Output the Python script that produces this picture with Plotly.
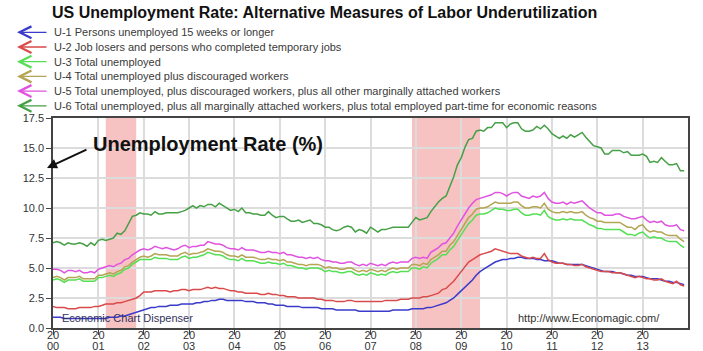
import pandas as pd
import plotly.graph_objects as go

# ---------------- data (monthly, Jan 2000 - Dec 2013) ----------------
months = pd.date_range("2000-01-01", "2013-12-01", freq="MS")

u1 = [0.9, 0.9, 0.9, 0.8, 0.8, 0.8, 0.8, 0.8, 0.8, 0.8, 0.8, 0.8,
      0.8, 0.8, 0.8, 0.9, 0.9, 0.9, 1.0, 1.0, 1.1, 1.2, 1.3, 1.4,
      1.5, 1.6, 1.7, 1.7, 1.8, 1.8, 1.8, 1.9, 1.9, 1.9, 2.0, 2.0,
      2.0, 2.0, 2.1, 2.1, 2.2, 2.2, 2.3, 2.3, 2.4, 2.4, 2.3, 2.3,
      2.3, 2.3, 2.3, 2.2, 2.2, 2.2, 2.1, 2.1, 2.1, 2.0, 2.0, 1.9,
      1.9, 1.9, 1.8, 1.8, 1.8, 1.8, 1.7, 1.7, 1.7, 1.7, 1.7, 1.6,
      1.6, 1.6, 1.6, 1.5, 1.5, 1.5, 1.5, 1.5, 1.5, 1.4, 1.4, 1.4,
      1.4, 1.4, 1.4, 1.4, 1.4, 1.4, 1.5, 1.5, 1.5, 1.5, 1.5, 1.6,
      1.6, 1.6, 1.6, 1.7, 1.7, 1.8, 1.9, 2.0, 2.1, 2.3, 2.5, 2.8,
      3.1, 3.4, 3.7, 4.0, 4.4, 4.7, 4.9, 5.1, 5.3, 5.5, 5.6, 5.7,
      5.7, 5.8, 5.8, 5.9, 5.9, 5.8, 5.8, 5.8, 5.7, 5.7, 5.6, 5.6,
      5.6, 5.5, 5.4, 5.4, 5.3, 5.3, 5.3, 5.3, 5.3, 5.2, 5.1, 5.0,
      4.9, 4.8, 4.7, 4.7, 4.7, 4.6, 4.6, 4.5, 4.4, 4.4, 4.3, 4.3,
      4.3, 4.2, 4.1, 4.1, 4.1, 4.0, 3.9, 3.9, 3.8, 3.8, 3.7, 3.6]

u2 = [1.8, 1.7, 1.7, 1.7, 1.6, 1.6, 1.6, 1.7, 1.7, 1.7, 1.7, 1.8,
      1.8, 1.9, 2.0, 2.0, 2.0, 2.1, 2.1, 2.2, 2.3, 2.4, 2.5, 2.7,
      3.0, 3.0, 3.0, 3.1, 3.1, 3.1, 3.1, 3.0, 3.1, 3.1, 3.2, 3.2,
      3.1, 3.2, 3.2, 3.2, 3.3, 3.4, 3.3, 3.4, 3.3, 3.3, 3.2, 3.1,
      3.1, 3.0, 3.0, 2.9, 2.9, 2.9, 2.9, 2.8, 2.8, 2.9, 2.8, 2.8,
      2.7, 2.7, 2.6, 2.6, 2.6, 2.5, 2.5, 2.5, 2.5, 2.5, 2.4, 2.4,
      2.3, 2.3, 2.3, 2.2, 2.2, 2.2, 2.3, 2.3, 2.2, 2.2, 2.2, 2.2,
      2.2, 2.2, 2.2, 2.2, 2.3, 2.3, 2.3, 2.3, 2.4, 2.4, 2.4, 2.5,
      2.5, 2.5, 2.6, 2.6, 2.7, 2.8, 2.9, 3.2, 3.3, 3.6, 3.9, 4.3,
      4.7, 5.1, 5.5, 5.7, 5.9, 6.1, 6.2, 6.3, 6.4, 6.6, 6.5, 6.4,
      6.3, 6.2, 6.2, 6.2, 6.0, 5.9, 5.8, 5.9, 5.8, 5.8, 6.2, 5.7,
      5.5, 5.4, 5.4, 5.4, 5.3, 5.3, 5.2, 5.2, 5.3, 5.1, 5.0, 4.9,
      4.8, 4.7, 4.7, 4.7, 4.6, 4.6, 4.6, 4.5, 4.4, 4.3, 4.2, 4.3,
      4.2, 4.1, 4.1, 4.0, 4.0, 4.1, 3.9, 3.8, 3.7, 3.9, 3.6, 3.5]

u3 = [4.0, 4.1, 4.0, 3.8, 4.0, 4.0, 4.0, 4.1, 3.9, 3.9, 3.9, 3.9,
      4.2, 4.2, 4.3, 4.4, 4.3, 4.5, 4.6, 4.9, 5.0, 5.3, 5.5, 5.7,
      5.7, 5.7, 5.7, 5.9, 5.8, 5.8, 5.8, 5.7, 5.7, 5.7, 5.9, 6.0,
      5.8, 5.9, 5.9, 6.0, 6.1, 6.3, 6.2, 6.1, 6.1, 6.0, 5.8, 5.7,
      5.7, 5.6, 5.8, 5.6, 5.6, 5.6, 5.5, 5.4, 5.4, 5.5, 5.4, 5.4,
      5.3, 5.4, 5.2, 5.2, 5.1, 5.0, 5.0, 4.9, 5.0, 5.0, 5.0, 4.9,
      4.7, 4.8, 4.7, 4.7, 4.6, 4.6, 4.7, 4.7, 4.5, 4.4, 4.5, 4.4,
      4.6, 4.5, 4.4, 4.5, 4.4, 4.6, 4.7, 4.6, 4.7, 4.7, 4.7, 5.0,
      5.0, 4.9, 5.1, 5.0, 5.4, 5.6, 5.8, 6.1, 6.1, 6.5, 6.8, 7.3,
      7.8, 8.3, 8.7, 9.0, 9.4, 9.5, 9.5, 9.6, 9.8, 10.0, 9.9, 9.9,
      9.8, 9.8, 9.9, 9.9, 9.6, 9.4, 9.4, 9.5, 9.5, 9.4, 9.8, 9.3,
      9.1, 9.0, 9.0, 9.1, 9.0, 9.1, 9.0, 9.0, 9.0, 8.8, 8.6, 8.5,
      8.3, 8.3, 8.2, 8.2, 8.2, 8.2, 8.2, 8.0, 7.8, 7.8, 7.7, 7.9,
      8.0, 7.7, 7.5, 7.6, 7.5, 7.5, 7.3, 7.2, 7.2, 7.2, 6.9, 6.7]

u4 = [4.2, 4.3, 4.2, 4.0, 4.2, 4.2, 4.2, 4.3, 4.1, 4.1, 4.1, 4.1,
      4.4, 4.4, 4.5, 4.6, 4.5, 4.7, 4.8, 5.1, 5.2, 5.5, 5.7, 5.9,
      6.0, 5.9, 6.0, 6.2, 6.1, 6.1, 6.1, 6.0, 6.0, 6.0, 6.2, 6.3,
      6.1, 6.2, 6.2, 6.3, 6.4, 6.6, 6.5, 6.4, 6.4, 6.3, 6.1, 6.0,
      6.0, 5.9, 6.1, 5.9, 5.9, 5.9, 5.8, 5.7, 5.7, 5.8, 5.7, 5.7,
      5.6, 5.7, 5.5, 5.5, 5.4, 5.3, 5.3, 5.2, 5.3, 5.3, 5.3, 5.2,
      5.0, 5.1, 5.0, 5.0, 4.9, 4.9, 5.0, 5.0, 4.8, 4.7, 4.8, 4.7,
      4.9, 4.8, 4.7, 4.8, 4.7, 4.9, 5.0, 4.9, 5.0, 5.0, 5.0, 5.3,
      5.3, 5.2, 5.4, 5.3, 5.7, 5.9, 6.1, 6.4, 6.4, 6.9, 7.2, 7.7,
      8.2, 8.8, 9.2, 9.5, 9.9, 10.0, 10.0, 10.1, 10.3, 10.5, 10.4, 10.4,
      10.4, 10.4, 10.5, 10.5, 10.2, 10.0, 10.0, 10.1, 10.1, 10.0, 10.4, 9.9,
      9.7, 9.6, 9.6, 9.7, 9.6, 9.7, 9.6, 9.6, 9.7, 9.4, 9.2, 9.1,
      8.9, 8.9, 8.8, 8.8, 8.8, 8.8, 8.8, 8.6, 8.4, 8.4, 8.2, 8.5,
      8.6, 8.2, 8.0, 8.1, 8.0, 8.0, 7.8, 7.7, 7.7, 7.7, 7.4, 7.2]

u5 = [4.9, 4.9, 4.8, 4.6, 4.8, 4.8, 4.7, 4.8, 4.6, 4.6, 4.7, 4.6,
      4.9, 5.0, 5.1, 5.2, 5.1, 5.3, 5.4, 5.7, 5.8, 6.1, 6.3, 6.5,
      6.6, 6.5, 6.6, 6.8, 6.7, 6.6, 6.7, 6.6, 6.5, 6.6, 6.8, 6.9,
      6.7, 6.8, 6.8, 6.9, 6.9, 7.2, 7.1, 7.0, 7.0, 6.9, 6.7, 6.6,
      6.6, 6.5, 6.7, 6.5, 6.5, 6.5, 6.4, 6.3, 6.3, 6.4, 6.3, 6.3,
      6.2, 6.3, 6.1, 6.1, 6.0, 5.9, 5.9, 5.8, 5.9, 5.8, 5.9, 5.7,
      5.6, 5.6, 5.5, 5.5, 5.4, 5.4, 5.5, 5.5, 5.3, 5.2, 5.3, 5.2,
      5.4, 5.3, 5.2, 5.3, 5.2, 5.4, 5.5, 5.4, 5.5, 5.5, 5.5, 5.8,
      5.9, 5.8, 5.9, 5.8, 6.3, 6.5, 6.7, 7.0, 7.1, 7.5, 7.9, 8.5,
      9.0, 9.6, 10.0, 10.4, 10.7, 10.8, 10.9, 11.0, 11.1, 11.3, 11.3, 11.2,
      11.0, 11.2, 11.3, 11.3, 11.0, 10.9, 10.8, 11.0, 10.9, 11.0, 11.3, 10.8,
      10.5, 10.4, 10.4, 10.5, 10.3, 10.5, 10.4, 10.5, 10.6, 10.3, 10.0, 9.8,
      9.6, 9.6, 9.4, 9.4, 9.4, 9.5, 9.5, 9.3, 9.2, 9.1, 9.1, 9.2,
      9.3, 9.0, 8.8, 8.9, 8.8, 8.9, 8.6, 8.5, 8.5, 8.6, 8.2, 8.1]

u6 = [7.1, 7.2, 7.1, 6.9, 7.1, 7.0, 7.0, 7.1, 7.0, 6.8, 7.1, 6.9,
      7.3, 7.4, 7.3, 7.4, 7.5, 7.9, 7.8, 8.1, 8.7, 9.3, 9.4, 9.6,
      9.5, 9.5, 9.4, 9.7, 9.5, 9.5, 9.6, 9.6, 9.6, 9.6, 9.7, 9.8,
      10.0, 10.2, 10.0, 10.2, 10.1, 10.3, 10.3, 10.1, 10.4, 10.2, 10.0, 9.8,
      9.9, 9.7, 10.0, 9.6, 9.6, 9.5, 9.5, 9.4, 9.4, 9.7, 9.4, 9.2,
      9.3, 9.3, 9.1, 8.9, 8.9, 9.0, 8.8, 8.9, 9.0, 8.7, 8.7, 8.6,
      8.4, 8.4, 8.2, 8.1, 8.2, 8.4, 8.5, 8.4, 8.0, 8.2, 8.1, 7.9,
      8.4, 8.2, 8.0, 8.2, 8.2, 8.3, 8.4, 8.4, 8.4, 8.4, 8.4, 8.8,
      9.2, 9.0, 9.1, 9.2, 9.7, 10.1, 10.5, 10.8, 11.0, 11.8, 12.6, 13.6,
      14.2, 15.1, 15.7, 15.8, 16.4, 16.5, 16.4, 16.7, 16.7, 17.1, 17.1, 17.1,
      16.7, 17.0, 17.1, 17.1, 16.6, 16.4, 16.4, 16.5, 16.8, 16.6, 16.9, 16.6,
      16.2, 16.0, 15.8, 16.0, 15.8, 16.1, 15.9, 16.1, 16.3, 15.9, 15.5, 15.2,
      15.1, 15.0, 14.5, 14.5, 14.8, 14.8, 14.8, 14.6, 14.7, 14.4, 14.4, 14.4,
      14.5, 14.3, 13.8, 13.9, 13.8, 14.2, 13.9, 13.6, 13.6, 13.7, 13.1, 13.1]

series_names = [
    "U-1 Persons unemployed 15 weeks or longer",
    "U-2 Job losers and persons who completed temporary jobs",
    "U-3 Total unemployed",
    "U-4 Total unemployed plus discouraged workers",
    "U-5 Total unemployed, plus discouraged workers, plus all other marginally attached workers",
    "U-6 Total unemployed, plus all marginally attached workers, plus total employed part-time for economic reasons",
]
series_values = [u1, u2, u3, u4, u5, u6]
series_colors = ["#3a3acb", "#d94a4a", "#55df55", "#b3a552", "#e052e0", "#46a046"]

recessions = [("2001-03-01", "2001-11-01"), ("2007-12-01", "2009-06-01")]

year_ticks = list(range(2000, 2014))
tick_vals = [f"{y}-01-01" for y in year_ticks]
tick_century = [str(y)[:2] for y in year_ticks]   # "20"
tick_decade = [str(y)[2:] for y in year_ticks]    # "00" .. "13"
y_ticks = [0.0, 2.5, 5.0, 7.5, 10.0, 12.5, 15.0, 17.5]

FONT = "Liberation Sans, Arial, sans-serif"

# plot area geometry in pixels (for converting paper coordinates)
W, H = 703, 351
L, R, T, B = 53, 15, 118, 23
PW, PH = W - L - R, H - T - B


def px(xp):
    return (xp - L) / PW


def py(yp):
    return (H - B - yp) / PH


fig = go.Figure()

# the series are drawn on the overlaying axis x2, which shares x's scale
for name, vals, col in zip(series_names, series_values, series_colors):
    fig.add_trace(go.Scatter(x=months, y=vals, mode="lines", name=name,
                             xaxis="x2", yaxis="y",
                             line=dict(color=col, width=1.5), showlegend=False))

for start, end in recessions:
    fig.add_shape(type="rect", xref="x", yref="paper", x0=start, x1=end, y0=0, y1=1,
                  fillcolor="rgba(238,120,120,0.45)", line_width=0, layer="below")

annotations = []
# legend (arrow + label)
for i, (name, col) in enumerate(zip(series_names, series_colors)):
    row_y = 32.3 + 14.7 * i
    annotations.append(dict(xref="paper", yref="paper", x=px(17), y=py(row_y), text="",
                            showarrow=True, arrowhead=5, arrowsize=1.8, arrowwidth=1.3,
                            arrowcolor=col, ax=31, ay=0))
    annotations.append(dict(xref="paper", yref="paper", x=px(52), y=py(row_y), text=name,
                            showarrow=False, xanchor="left", yanchor="middle",
                            font=dict(family=FONT, size=11, color="#3a3a3a")))

# big axis label and its arrow
annotations.append(dict(xref="paper", yref="paper", x=px(47), y=py(168), text="",
                        showarrow=True, arrowhead=2, arrowsize=1, arrowwidth=2,
                        arrowcolor="#111111", ax=41, ay=-19))
annotations.append(dict(xref="paper", yref="paper", x=px(91), y=py(144),
                        text="<b>Unemployment Rate (%)</b>", showarrow=False,
                        xanchor="left", yanchor="middle",
                        font=dict(family=FONT, size=20, color="#111111")))
# watermarks
annotations.append(dict(xref="paper", yref="paper", x=px(60), y=py(318),
                        text="Economic Chart Dispenser", showarrow=False,
                        xanchor="left", yanchor="middle",
                        font=dict(family=FONT, size=11, color="#33335a")))
annotations.append(dict(xref="paper", yref="paper", x=px(662), y=py(318),
                        text="http://www.Economagic.com/", showarrow=False,
                        xanchor="right", yanchor="middle",
                        font=dict(family=FONT, size=11, color="#333333")))

fig.update_layout(
    width=W, height=H,
    margin=dict(l=L, r=R, t=T, b=B, pad=0, autoexpand=False),
    paper_bgcolor="white", plot_bgcolor="white",
    title=dict(text="<b>US Unemployment Rate: Alternative Measures of Labor Underutilization</b>",
               x=52 / W, xref="container", xanchor="left",
               y=(H - 12) / H, yref="container", yanchor="middle",
               font=dict(family=FONT, size=16, color="#111111")),
    annotations=annotations,
    font=dict(family=FONT, size=11, color="#333333"),
    xaxis=dict(type="date", range=["2000-01-01", "2014-01-01"], automargin=False,
               tickmode="array", tickvals=tick_vals, ticktext=tick_century, tickangle=0,
               ticklabelstandoff=-9,
               showgrid=True, gridcolor="#dcdcdc", gridwidth=1.5,
               showline=True, linecolor="#444444", linewidth=1.5, mirror=True,
               ticks="outside", ticklen=5, tickcolor="#444444",
               tickfont=dict(family=FONT, size=11, color="#333333"),
               zeroline=False),
    xaxis2=dict(type="date", overlaying="x", matches="x", anchor="y", side="bottom",
                automargin=False,
                tickmode="array", tickvals=tick_vals, ticktext=tick_decade, tickangle=0,
                ticklabelstandoff=10,
                showgrid=False, showline=False, ticks="", zeroline=False,
                tickfont=dict(family=FONT, size=11, color="#333333")),
    yaxis=dict(range=[0, 17.5], tickmode="array", tickvals=y_ticks,
               ticktext=[f"{v:.1f}" for v in y_ticks], automargin=False,
               showgrid=True, gridcolor="#dcdcdc", gridwidth=1.5,
               showline=True, linecolor="#444444", linewidth=1.5, mirror=True,
               ticks="outside", ticklen=5, tickcolor="#444444",
               tickfont=dict(family=FONT, size=11, color="#333333"),
               zeroline=False),
)

fig.write_html("out.html")
